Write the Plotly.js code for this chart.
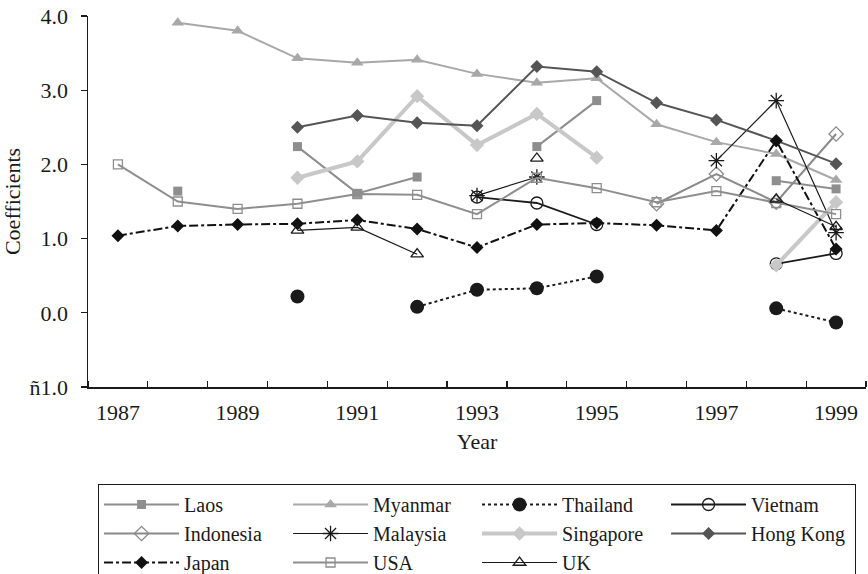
<!DOCTYPE html>
<html>
<head>
<meta charset="utf-8">
<script src="https://cdn.plot.ly/plotly-3.0.1.min.js"></script>
<style>html,body{margin:0;padding:0;background:#fff;}#chart{width:868px;height:574px;}</style>
</head>
<body>
<div id="chart"></div>
<script>
const years = [1987,1988,1989,1990,1991,1992,1993,1994,1995,1996,1997,1998,1999];
const xTickVals = [1987,1989,1991,1993,1995,1997,1999];
const xTickText = ['1987','1989','1991','1993','1995','1997','1999'];
const yTickVals = [-1,0,1,2,3,4];
const yTickText = ['ñ1.0','0.0','1.0','2.0','3.0','4.0'];

const laos      = [null,1.64,null,2.24,1.61,1.83,null,2.24,2.86,null,null,1.78,1.67];
const myanmar   = [null,3.91,3.80,3.43,3.37,3.41,3.22,3.10,3.16,2.54,2.30,2.14,1.79];
const thailand  = [null,null,null,0.22,null,0.08,0.31,0.33,0.49,null,null,0.06,-0.13];
const vietnam   = [null,null,null,null,null,null,1.56,1.48,1.19,null,null,0.66,0.80];
const indonesia = [null,null,null,null,null,null,null,null,null,1.47,1.87,1.49,2.41];
const malaysia  = [null,null,null,null,null,null,1.58,1.83,null,null,2.05,2.86,1.08];
const singapore = [null,null,null,1.82,2.04,2.92,2.26,2.68,2.09,null,null,0.64,1.49];
const hongkong  = [null,null,null,2.50,2.66,2.56,2.52,3.32,3.25,2.83,2.60,2.32,2.01];
const japan     = [1.04,1.17,1.19,1.20,1.25,1.13,0.88,1.19,1.21,1.18,1.11,2.32,0.86];
const usa       = [2.00,1.50,1.40,1.47,1.60,1.59,1.33,1.82,1.68,1.49,1.64,1.48,1.33];
const uk        = [null,null,null,1.11,1.15,0.79,null,2.08,null,null,null,1.53,1.16];

function tr(name, y, lineColor, lineWidth, dash, symbol, size, mColor, mLineColor, mLineWidth) {
  return {
    type: 'scatter', mode: 'lines+markers', name: name, x: years, y: y,
    connectgaps: false,
    line: {color: lineColor, width: lineWidth, dash: dash},
    marker: {symbol: symbol, size: size, color: mColor, line: {color: mLineColor, width: mLineWidth}}
  };
}

const data = [
  tr('Laos', laos, '#8e8e8e', 2, 'solid', 'square', 9, '#8e8e8e', '#8e8e8e', 0),
  tr('Myanmar', myanmar, '#a8a8a8', 2, 'solid', 'triangle-up', 11, '#a8a8a8', '#a8a8a8', 0),
  tr('Thailand', thailand, '#1a1a1a', 2, 'dot', 'circle', 14, '#1a1a1a', '#1a1a1a', 0),
  tr('Vietnam', vietnam, '#1a1a1a', 1.8, 'solid', 'circle-open', 12, '#1a1a1a', '#1a1a1a', 1.3),
  tr('Indonesia', indonesia, '#8a8a8a', 2, 'solid', 'diamond-open', 11, '#8a8a8a', '#8a8a8a', 1.3),
  tr('Malaysia', malaysia, '#1a1a1a', 1.2, 'solid', 'asterisk-open', 13, '#1a1a1a', '#1a1a1a', 1.3),
  tr('Singapore', singapore, '#c8c8c8', 4, 'solid', 'diamond', 11, '#c8c8c8', '#c8c8c8', 0),
  tr('Hong Kong', hongkong, '#555555', 2, 'solid', 'diamond', 10, '#555555', '#555555', 0),
  tr('Japan', japan, '#111111', 2, 'dashdot', 'diamond', 10, '#111111', '#111111', 0),
  tr('USA', usa, '#8e8e8e', 2, 'solid', 'square-open', 9, '#8e8e8e', '#8e8e8e', 1.3),
  tr('UK', uk, '#1a1a1a', 1.2, 'solid', 'triangle-up-open', 11, '#1a1a1a', '#1a1a1a', 1.3)
];

const font = {family: '"Liberation Serif", "Times New Roman", serif', size: 22, color: '#1a1a1a'};
const legendFont = {family: '"Liberation Serif", "Times New Roman", serif', size: 20, color: '#1a1a1a'};

const layout = {
  width: 868, height: 574,
  margin: {l: 88, r: 2, t: 16, b: 187, autoexpand: false},
  paper_bgcolor: '#ffffff', plot_bgcolor: '#ffffff',
  font: font,
  showlegend: true,
  xaxis: {
    range: [1986.5, 1999.5],
    tickmode: 'array', tickvals: xTickVals, ticktext: xTickText,
    ticks: '', showgrid: false, zeroline: false,
    ticklabelstandoff: 5,
    showline: true, linecolor: '#1a1a1a', linewidth: 1.5,
    tickfont: font,
    minor: {tickmode: 'linear', tick0: 1986.5, dtick: 1, ticks: 'inside', ticklen: 6, tickcolor: '#1a1a1a', tickwidth: 1.2, showgrid: false},
    title: {text: 'Year', font: font, standoff: 9},
    automargin: false
  },
  yaxis: {
    range: [-1, 4],
    tickmode: 'array', tickvals: yTickVals, ticktext: yTickText,
    ticks: 'outside', ticklen: 6, tickcolor: '#1a1a1a', tickwidth: 1.2,
    ticklabelstandoff: 8,
    showgrid: false, zeroline: false,
    showline: true, linecolor: '#1a1a1a', linewidth: 1.5,
    tickfont: font,
    title: {text: 'Coefficients', font: font, standoff: 3},
    automargin: false
  },
  legend: {
    orientation: 'h',
    x: 0.0129, xanchor: 'left',
    y: -0.2615, yanchor: 'top',
    bgcolor: '#ffffff', bordercolor: '#1a1a1a', borderwidth: 1,
    font: legendFont,
    entrywidth: 99, entrywidthmode: 'pixels',
    itemwidth: 75,
    traceorder: 'normal'
  }
};

Plotly.newPlot('chart', data, layout, {displayModeBar: false, staticPlot: true});
</script>
</body>
</html>
